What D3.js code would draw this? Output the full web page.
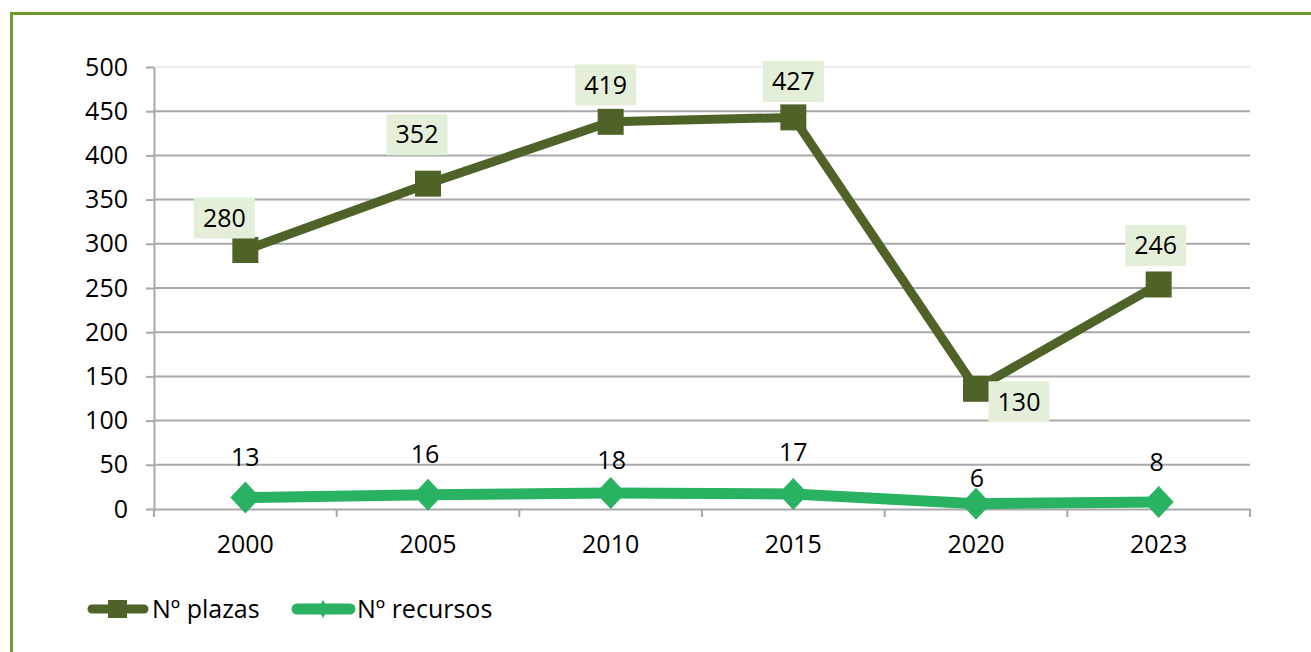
<!DOCTYPE html>
<html>
<head>
<meta charset="utf-8">
<script src="https://cdn.jsdelivr.net/npm/d3@7"></script>
<style>
  body { margin: 0; background: #fff; }
  svg { display: block; }
</style>
</head>
<body>
<script>
// chart data
const years = ["2000", "2005", "2010", "2015", "2020", "2023"];
// Nº plazas: plotted heights as drawn in the chart, and the printed labels
const plazas = [293, 368, 438, 443, 136, 254];
const plazasLabels = ["280", "352", "419", "427", "130", "246"];
// Nº recursos
const recursos = [13, 16, 18, 17, 6, 8];
const recursosLabels = ["13", "16", "18", "17", "6", "8"];
const yTicks = [0, 50, 100, 150, 200, 250, 300, 350, 400, 450, 500];

// label offsets from the marker (px) -- where excel put them
const plazasLabelOff = [[-21, -32], [-11, -49], [-5, -37], [0, -36], [43, 13], [-3, -39]];
const recursosLabelOff = [[0, -40], [-3, -41], [1, -33], [0, -42], [1, -25], [-2, -40]];

const width = 1311, height = 652;
const plotLeft = 154, plotRight = 1250, plotTop = 67, plotBottom = 509;
const darkGreen = "#4f6228", lightGreen = "#29b262", boxFill = "#e4efd9";
const font = "'Open Sans', sans-serif";

const svg = d3.select("body").append("svg")
  .attr("width", width)
  .attr("height", height)
  .attr("font-family", font);

// outer frame
svg.append("rect")
  .attr("x", 11.5).attr("y", 13.5)
  .attr("width", width + 20).attr("height", height + 20)
  .attr("fill", "#fff")
  .attr("stroke", "#72992b")
  .attr("stroke-width", 3);

const x = d3.scaleBand().domain(years).range([plotLeft, plotRight]).padding(0);
const y = d3.scaleLinear().domain([0, 500]).range([plotBottom, plotTop]);
const cx = d => x(d) + x.bandwidth() / 2;

// gridlines
svg.append("g")
  .selectAll("line")
  .data(yTicks.filter(t => t > 0))
  .join("line")
  .attr("x1", plotLeft).attr("x2", plotRight)
  .attr("y1", d => y(d)).attr("y2", d => y(d))
  .attr("stroke", d => d === 500 ? "#ececec" : "#a9a9ab")
  .attr("stroke-width", 2);

// y axis
const yAxis = svg.append("g")
  .attr("transform", `translate(${plotLeft},0)`)
  .call(d3.axisLeft(y).tickValues(yTicks).tickSize(8).tickSizeOuter(0).tickPadding(18));
yAxis.select(".domain").attr("stroke", "#a9a9ab").attr("stroke-width", 2);
yAxis.selectAll(".tick line").attr("stroke", "#a9a9ab").attr("stroke-width", 2);
yAxis.selectAll(".tick text")
  .attr("font-family", font).attr("font-size", 25).attr("fill", "#000");

// x axis
const xAxis = svg.append("g")
  .attr("transform", `translate(0,${plotBottom})`)
  .call(d3.axisBottom(x).tickSize(0).tickSizeOuter(0).tickPadding(26));
xAxis.select(".domain").attr("stroke", "#a9a9ab").attr("stroke-width", 2);
xAxis.selectAll(".tick text")
  .attr("font-family", font).attr("font-size", 25).attr("fill", "#000");
// category boundary ticks
svg.append("g")
  .selectAll("line")
  .data(years.map(d => x(d)).concat([plotRight]))
  .join("line")
  .attr("x1", d => d).attr("x2", d => d)
  .attr("y1", plotBottom).attr("y2", plotBottom + 8)
  .attr("stroke", "#a9a9ab").attr("stroke-width", 2);

const line = d3.line().x(d => cx(d[0])).y(d => y(d[1]));

// Nº recursos series
svg.append("path")
  .datum(years.map((d, i) => [d, recursos[i]]))
  .attr("d", line)
  .attr("fill", "none")
  .attr("stroke", lightGreen)
  .attr("stroke-width", 11)
  .attr("stroke-linejoin", "round");
svg.append("g")
  .selectAll("path")
  .data(years)
  .join("path")
  .attr("transform", (d, i) => `translate(${cx(d)},${y(recursos[i])})`)
  .attr("d", "M0,-16L15,0L0,16L-15,0Z")
  .attr("fill", lightGreen);

// Nº plazas series
svg.append("path")
  .datum(years.map((d, i) => [d, plazas[i]]))
  .attr("d", line)
  .attr("fill", "none")
  .attr("stroke", darkGreen)
  .attr("stroke-width", 9)
  .attr("stroke-linejoin", "round");
svg.append("g")
  .selectAll("rect")
  .data(years)
  .join("rect")
  .attr("x", d => cx(d) - 13)
  .attr("y", (d, i) => y(plazas[i]) - 13)
  .attr("width", 26).attr("height", 26)
  .attr("fill", darkGreen);

// plazas labels with boxes
const pl = svg.append("g")
  .selectAll("g")
  .data(years)
  .join("g")
  .attr("transform", (d, i) => `translate(${cx(d) + plazasLabelOff[i][0]},${y(plazas[i]) + plazasLabelOff[i][1]})`);
pl.append("rect")
  .attr("x", -30.5).attr("y", -20.5)
  .attr("width", 61).attr("height", 41)
  .attr("fill", boxFill);
pl.append("text")
  .attr("text-anchor", "middle")
  .attr("dy", "0.35em")
  .attr("font-size", 25)
  .text((d, i) => plazasLabels[i]);

// recursos labels
svg.append("g")
  .selectAll("text")
  .data(years)
  .join("text")
  .attr("x", (d, i) => cx(d) + recursosLabelOff[i][0])
  .attr("y", (d, i) => y(recursos[i]) + recursosLabelOff[i][1])
  .attr("text-anchor", "middle")
  .attr("dy", "0.35em")
  .attr("font-size", 25)
  .text((d, i) => recursosLabels[i]);

// legend
const lg = svg.append("g").attr("transform", "translate(0,609)");
lg.append("line")
  .attr("x1", 92).attr("x2", 144)
  .attr("stroke", darkGreen).attr("stroke-width", 9).attr("stroke-linecap", "round");
lg.append("rect")
  .attr("x", 108).attr("y", -9).attr("width", 19).attr("height", 18)
  .attr("fill", darkGreen);
lg.append("text")
  .attr("x", 152).attr("dy", "0.35em").attr("font-size", 25)
  .text("Nº plazas");
lg.append("line")
  .attr("x1", 297).attr("x2", 350)
  .attr("stroke", lightGreen).attr("stroke-width", 11).attr("stroke-linecap", "round");
lg.append("path")
  .attr("d", "M323,-9L328,0L323,9L318,0Z")
  .attr("fill", lightGreen);
lg.append("text")
  .attr("x", 357).attr("dy", "0.35em").attr("font-size", 25)
  .text("Nº recursos");
</script>
</body>
</html>
